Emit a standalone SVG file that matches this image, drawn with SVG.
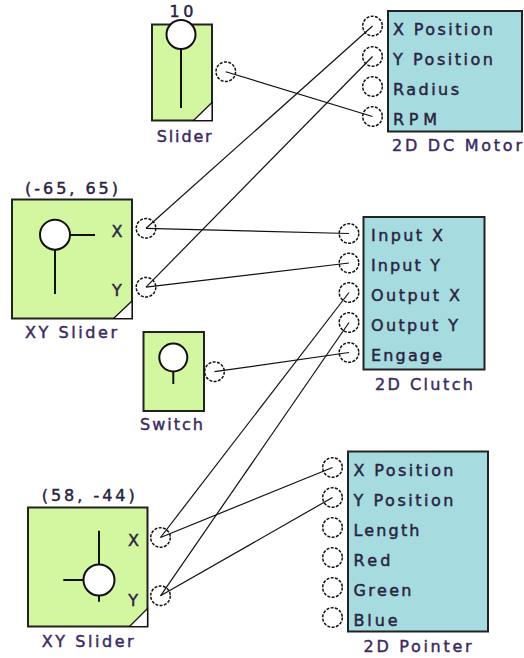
<svg xmlns="http://www.w3.org/2000/svg" width="524" height="658" viewBox="0 0 524 658">
<style>
.bg{fill:#ffffff}
.green{fill:#d3f6a1;stroke:#222;stroke-width:2}
.cyan{fill:#a6dbe0;stroke:#222;stroke-width:2}
.knob{fill:#ffffff;stroke:#111;stroke-width:2}
.stem{stroke:#111;stroke-width:2;fill:none}
.corner{fill:#ffffff;stroke:#111;stroke-width:1.2}
.port{fill:none;stroke:#111;stroke-width:1.5;stroke-dasharray:3 1.4}
.wire{stroke:#111;stroke-width:1.2;fill:none}
text{font-family:"DejaVu Sans","Verdana",sans-serif;font-size:16px;fill:#2a2340;stroke:#2a2340;stroke-width:0.45}
.lab{fill:#3b2a62;stroke:#3b2a62}
</style>
<rect class="bg" x="0" y="0" width="524" height="658"/>

<g id="slider">
<rect class="green" x="152" y="24.5" width="60" height="96"/>
<path class="corner" d="M193.5 120.5 L212 120.5 L212 102.5 Z"/>
<line class="stem" x1="181" y1="49" x2="181" y2="108"/>
<circle class="knob" cx="181" cy="34.5" r="14.5"/>
<text x="169.5" y="17.3" textLength="24" lengthAdjust="spacing">10</text>
<text class="lab" x="156.7" y="141.5" textLength="55" lengthAdjust="spacing">Slider</text>
<circle class="port" cx="225.8" cy="71.7" r="9.8"/>
</g>

<g id="motor">
<rect class="cyan" x="388" y="11" width="134" height="120.5"/>
<text x="393" y="35" textLength="100" lengthAdjust="spacing">X Position</text>
<text x="393" y="65" textLength="100" lengthAdjust="spacing">Y Position</text>
<text x="393" y="95" textLength="66" lengthAdjust="spacing">Radius</text>
<text x="393" y="124.5" textLength="44" lengthAdjust="spacing">RPM</text>
<text class="lab" x="392" y="151" textLength="130" lengthAdjust="spacing">2D DC Motor</text>
<circle class="port" cx="372.5" cy="26" r="9.8"/>
<circle class="port" cx="372.5" cy="56.5" r="9.8"/>
<circle class="port" cx="372.5" cy="86.5" r="9.8"/>
<circle class="port" cx="372.5" cy="116.5" r="9.8"/>
</g>

<g id="xyslider1">
<rect class="green" x="12" y="199.5" width="120" height="119"/>
<path class="corner" d="M113.5 318.5 L132 318.5 L132 301 Z"/>
<line class="stem" x1="70" y1="235" x2="95" y2="235"/>
<line class="stem" x1="55" y1="249" x2="55" y2="294"/>
<circle class="knob" cx="55" cy="234.7" r="15"/>
<text x="111.5" y="237">X</text>
<text x="112" y="296">Y</text>
<text x="25" y="194" textLength="93" lengthAdjust="spacing">(-65, 65)</text>
<text class="lab" x="25" y="338.4" textLength="92" lengthAdjust="spacing">XY Slider</text>
<circle class="port" cx="146" cy="228.3" r="9.8"/>
<circle class="port" cx="146" cy="287.2" r="9.8"/>
</g>

<g id="clutch">
<rect class="cyan" x="363.5" y="217" width="121" height="152.5"/>
<text x="371" y="241" textLength="72" lengthAdjust="spacing">Input X</text>
<text x="371" y="271" textLength="69" lengthAdjust="spacing">Input Y</text>
<text x="371" y="301" textLength="89" lengthAdjust="spacing">Output X</text>
<text x="371" y="331" textLength="87" lengthAdjust="spacing">Output Y</text>
<text x="371" y="361" textLength="71" lengthAdjust="spacing">Engage</text>
<text class="lab" x="375" y="390" textLength="98" lengthAdjust="spacing">2D Clutch</text>
<circle class="port" cx="349" cy="233.5" r="9.8"/>
<circle class="port" cx="349" cy="263" r="9.8"/>
<circle class="port" cx="349" cy="292.5" r="9.8"/>
<circle class="port" cx="349" cy="322.5" r="9.8"/>
<circle class="port" cx="349" cy="352.5" r="9.8"/>
</g>

<g id="switch">
<rect class="green" x="143.5" y="332" width="60.5" height="79"/>
<line class="stem" x1="173.3" y1="371.5" x2="173.3" y2="384"/>
<circle class="knob" cx="173.3" cy="357.5" r="14"/>
<text class="lab" x="140" y="430" textLength="63" lengthAdjust="spacing">Switch</text>
<circle class="port" cx="214.5" cy="371.7" r="9.8"/>
</g>

<g id="xyslider2">
<rect class="green" x="28" y="507.5" width="119.5" height="119"/>
<path class="corner" d="M129.5 626.5 L147.5 626.5 L147.5 608.5 Z"/>
<line class="stem" x1="99" y1="530.7" x2="99" y2="565"/>
<line class="stem" x1="63.3" y1="580" x2="84" y2="580"/>
<line class="stem" x1="99" y1="595" x2="99" y2="601.7"/>
<circle class="knob" cx="99" cy="580" r="15.5"/>
<text x="128" y="546">X</text>
<text x="128.3" y="606">Y</text>
<text x="41.7" y="500.7" textLength="93" lengthAdjust="spacing">(58, -44)</text>
<text class="lab" x="41.7" y="646.7" textLength="92" lengthAdjust="spacing">XY Slider</text>
<circle class="port" cx="160.5" cy="537.5" r="9.8"/>
<circle class="port" cx="160.5" cy="595.8" r="9.8"/>
</g>

<g id="pointer">
<rect class="cyan" x="348" y="451.5" width="140" height="180"/>
<text x="353.5" y="476" textLength="100" lengthAdjust="spacing">X Position</text>
<text x="353.5" y="506" textLength="100" lengthAdjust="spacing">Y Position</text>
<text x="353.5" y="536" textLength="66" lengthAdjust="spacing">Length</text>
<text x="353.5" y="566" textLength="37" lengthAdjust="spacing">Red</text>
<text x="353.5" y="596" textLength="58" lengthAdjust="spacing">Green</text>
<text x="353.5" y="626" textLength="44" lengthAdjust="spacing">Blue</text>
<text class="lab" x="363.5" y="651.7" textLength="108" lengthAdjust="spacing">2D Pointer</text>
<circle class="port" cx="332.5" cy="467.5" r="9.8"/>
<circle class="port" cx="332.5" cy="497.5" r="9.8"/>
<circle class="port" cx="332.5" cy="527.5" r="9.8"/>
<circle class="port" cx="332.5" cy="557.5" r="9.8"/>
<circle class="port" cx="332.5" cy="587.5" r="9.8"/>
<circle class="port" cx="332.5" cy="617.5" r="9.8"/>
</g>

<g id="connectors">
<line class="wire" x1="225.8" y1="71.7" x2="372.5" y2="116.5"/>
<line class="wire" x1="146" y1="228.3" x2="372.5" y2="26"/>
<line class="wire" x1="146" y1="287.2" x2="372.5" y2="56.5"/>
<line class="wire" x1="146" y1="228.3" x2="349" y2="233.5"/>
<line class="wire" x1="146" y1="287.2" x2="349" y2="263"/>
<line class="wire" x1="214.5" y1="371.7" x2="349" y2="352.5"/>
<line class="wire" x1="160.5" y1="537.5" x2="349" y2="292.5"/>
<line class="wire" x1="160.5" y1="595.8" x2="349" y2="322.5"/>
<line class="wire" x1="160.5" y1="537.5" x2="332.5" y2="467.5"/>
<line class="wire" x1="160.5" y1="595.8" x2="332.5" y2="497.5"/>
</g>
</svg>
